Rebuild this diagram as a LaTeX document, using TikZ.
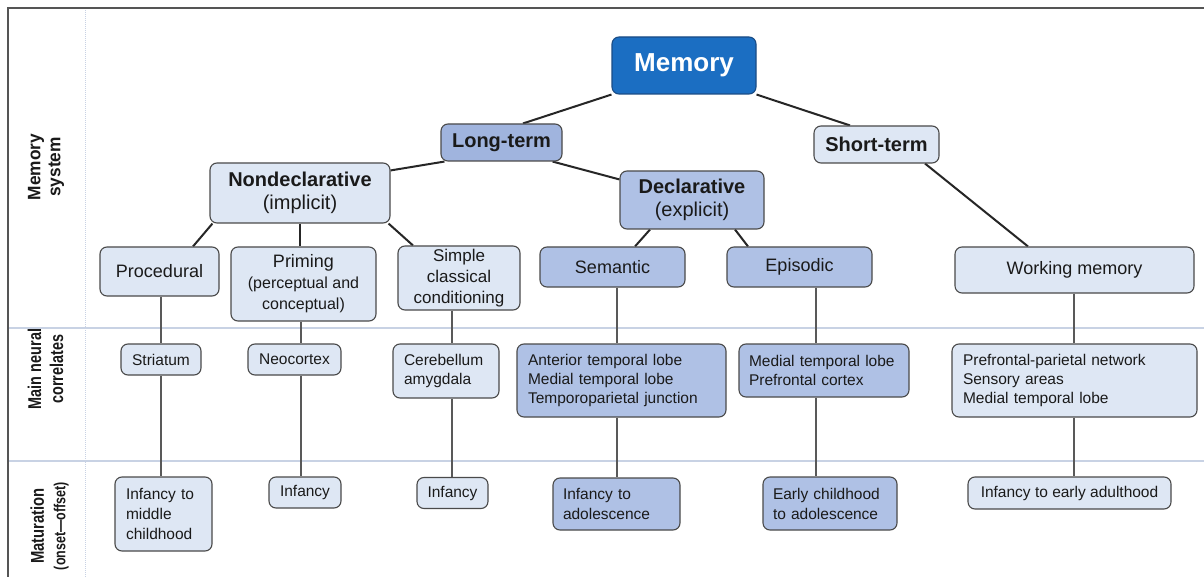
\documentclass[tikz,border=0pt]{standalone}
\usepackage{fontspec}
\setmainfont{Liberation Sans}
\usetikzlibrary{backgrounds}
\definecolor{memc}{HTML}{1B6EC2}
\definecolor{memb}{HTML}{1A4C85}
\definecolor{ltc}{HTML}{A0B4DE}
\definecolor{medc}{HTML}{AFC1E5}
\definecolor{lightc}{HTML}{DEE7F4}
\definecolor{bordc}{HTML}{4A4A4A}
\definecolor{txtc}{HTML}{1A1A1A}
\definecolor{gridc}{HTML}{C8D2E4}
\definecolor{framec}{HTML}{555555}
\newcommand\fMem{\fontsize{26}{30}\selectfont\bfseries}
\newcommand\fTwo{\fontsize{20}{23}\selectfont}
\newcommand\fThree{\fontsize{18}{21}\selectfont}
\newcommand\fSub{\fontsize{16}{19}\selectfont}
\newcommand\fRowTwo{\fontsize{15.5}{19}\selectfont}
\newcommand\fRowThree{\fontsize{15.5}{20}\selectfont}
\tikzset{
  bx/.style={draw=bordc, line width=1.1pt, rounded corners=7pt, inner sep=0pt, align=center, text=txtc},
  lightbox/.style={bx, fill=lightc},
  medbox/.style={bx, fill=medc},
  leftbox/.style={align=left, inner xsep=11pt, text width=#1},
  thickconn/.style={draw=black!85, line width=2pt},
  thinconn/.style={draw=black!65, line width=1.3pt},
  rowlab/.style={rotate=90, align=center, text=txtc, inner sep=0pt}
}
\begin{document}
\begin{tikzpicture}[x=1pt, y=-1pt]
\useasboundingbox (0,0) rectangle (1204,577);
% level 1-2
\node[bx, fill=memc, draw=memb, text=white, minimum width=144pt, minimum height=57pt, font=\fMem] (mem) at (684,65.5) {Memory};
\node[bx, fill=ltc, minimum width=121pt, minimum height=37pt, font=\fTwo\bfseries] (lt) at (501.5,142.5) {Long-term};
\node[lightbox, minimum width=125pt, minimum height=37pt, font=\fTwo\bfseries] (st) at (876.5,144.5) {Short-term};
\node[lightbox, minimum width=180pt, minimum height=60pt, font=\fTwo] (nd) at (300,193) {\textbf{Nondeclarative}\\(implicit)};
\node[medbox, minimum width=144pt, minimum height=58pt, font=\fTwo] (de) at (692,200) {\textbf{Declarative}\\(explicit)};
% level 3
\node[lightbox, minimum width=119pt, minimum height=49pt, font=\fThree] (pr) at (159.5,271.5) {Procedural};
\node[lightbox, minimum width=145pt, minimum height=74pt, font=\fThree] (pm) at (303.5,284) {Priming\\\fSub (perceptual and\\\fSub conceptual)};
\node[lightbox, minimum width=122pt, minimum height=64pt, font=\fontsize{17}{21}\selectfont] (sc) at (459,278) {Simple\\classical\\conditioning};
\node[medbox, minimum width=145pt, minimum height=40pt, font=\fThree] (se) at (612.5,267) {Semantic};
\node[medbox, minimum width=145pt, minimum height=40pt, font=\fThree] (ep) at (799.5,267) {Episodic};
\node[lightbox, minimum width=239pt, minimum height=46pt, font=\fThree] (wm) at (1074.5,270) {Working memory};
% row 2
\node[lightbox, minimum width=80pt, minimum height=31pt, font=\fRowTwo] (str) at (161,359.5) {Striatum};
\node[lightbox, minimum width=93pt, minimum height=31pt, font=\fRowTwo] (neo) at (294.5,359.5) {Neocortex};
\node[lightbox, leftbox=84pt, minimum height=54pt, font=\fRowTwo] (cer) at (446,371) {Cerebellum\\amygdala};
\node[medbox, leftbox=187pt, minimum height=73pt, font=\fRowTwo] (ant) at (621.5,380.5) {Anterior temporal lobe\\Medial temporal lobe\\Temporoparietal junction};
\node[medbox, leftbox=150pt, inner xsep=10pt, minimum height=53pt, font=\fRowTwo] (med) at (824,370.5) {Medial temporal lobe\\Prefrontal cortex};
\node[lightbox, leftbox=223pt, minimum height=73pt, font=\fRowTwo] (pfp) at (1074.5,380.5) {Prefrontal-parietal network\\Sensory areas\\Medial temporal lobe};
% row 3
\node[lightbox, leftbox=75pt, minimum height=74pt, font=\fRowThree] (imc) at (163.5,514) {Infancy to\\middle\\childhood};
\node[lightbox, minimum width=72pt, minimum height=31pt, font=\fRowThree] (inf1) at (305,492.5) {Infancy};
\node[lightbox, minimum width=71pt, minimum height=31pt, font=\fRowThree] (inf2) at (452.5,493) {Infancy};
\node[medbox, leftbox=107pt, inner xsep=10pt, minimum height=52pt, font=\fRowThree] (ia) at (616.5,504) {Infancy to\\adolescence};
\node[medbox, leftbox=114pt, inner xsep=10pt, minimum height=53pt, font=\fRowThree] (ec) at (830,503.5) {Early childhood\\to adolescence};
\node[lightbox, minimum width=203pt, minimum height=32pt, font=\fRowThree] (iea) at (1069.5,493) {Infancy to early adulthood};
% row labels
\node[rowlab, font=\fontsize{18}{20}\selectfont\bfseries] (l1) at (46,167) {\scalebox{0.96}[1]{Memory}\\\scalebox{0.96}[1]{system}};
\node[rowlab, font=\fontsize{18.5}{22}\selectfont\bfseries] (l2) at (45.5,369) {\scalebox{0.78}[1]{Main neural}\\\scalebox{0.78}[1]{correlates}};
\node[rowlab, font=\fontsize{18.5}{21.5}\selectfont\bfseries] (l3) at (49.5,526) {\scalebox{0.8}[1]{Maturation}\\\scalebox{0.78}[1]{\fontsize{16}{21.5}\selectfont (onset—offset)}};
\begin{pgfonlayer}{background}
\fill[white] (0,0) rectangle (1204,577);
\draw[gridc, line width=1.3pt] (8,328) -- (1204,328);
\draw[gridc, line width=1.3pt] (8,461) -- (1204,461);
\draw[gridc, line width=1pt, densely dotted] (85,8) -- (85,577);
\draw[framec, line width=1.5pt] (8,577) -- (8,8) -- (1204,8);
% hierarchy connectors
\draw[thickconn] (mem.south west) -- ([xshift=21.5pt]lt.north);
\draw[thickconn] (mem.south east) -- ([xshift=-26.5pt]st.north);
\draw[thickconn] ([xshift=4pt]lt.south west) -- ([yshift=-8pt]nd.north east);
\draw[thickconn] ([xshift=-10pt]lt.south east) -- ([yshift=-9pt]de.north west);
\draw[thickconn] ([xshift=3pt]nd.south west) -- ([xshift=33.5pt]pr.north);
\draw[thickconn] (nd.south) -- (nd.south |- pm.north);
\draw[thickconn] ([xshift=-2pt]nd.south east) -- ([xshift=-46pt]sc.north);
\draw[thickconn] ([xshift=-42pt]de.south) -- ([xshift=22.5pt]se.north);
\draw[thickconn] ([xshift=43pt]de.south) -- ([xshift=-51.5pt]ep.north);
\draw[thickconn] ([xshift=48.5pt]st.south) -- ([xshift=-46.5pt]wm.north);
% vertical connectors
\draw[thinconn] (str.north |- pr.south) -- (str.north);
\draw[thinconn] (str.south) -- (str.south |- imc.north);
\draw[thinconn] ([xshift=-2.5pt]pm.south) -- ([xshift=6.5pt]neo.north);
\draw[thinconn] ([xshift=6.5pt]neo.south) -- ([xshift=-4pt]inf1.north);
\draw[thinconn] ([xshift=-7pt]sc.south) -- ([xshift=6pt]cer.north);
\draw[thinconn] ([xshift=6pt]cer.south) -- ([xshift=-0.5pt]inf2.north);
\draw[thinconn] ([xshift=4.5pt]se.south) -- ([xshift=-4.5pt]ant.north);
\draw[thinconn] ([xshift=-4.5pt]ant.south) -- ([xshift=0.5pt]ia.north);
\draw[thinconn] ([xshift=16.5pt]ep.south) -- ([xshift=-8pt]med.north);
\draw[thinconn] ([xshift=-8pt]med.south) -- ([xshift=-14pt]ec.north);
\draw[thinconn] ([xshift=-0.5pt]wm.south) -- ([xshift=-0.5pt]pfp.north);
\draw[thinconn] ([xshift=-0.5pt]pfp.south) -- ([xshift=4.5pt]iea.north);
\end{pgfonlayer}
\end{tikzpicture}
\end{document}
